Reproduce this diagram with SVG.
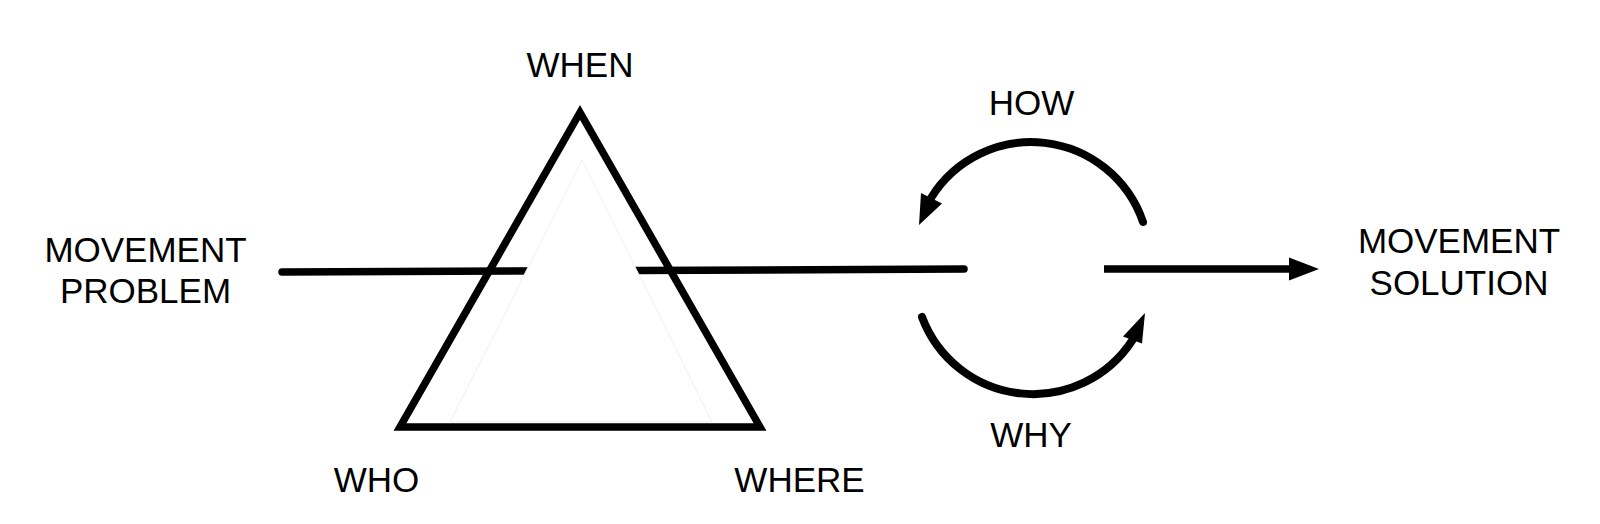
<svg xmlns="http://www.w3.org/2000/svg" width="1600" height="524" viewBox="0 0 1600 524">
<style>
  text { font-family: "Liberation Sans", Arial, Helvetica, sans-serif; font-size: 35px; fill: #000; text-anchor: middle; }
  .ln { fill: none; stroke: #000; stroke-width: 7.5; }
  .arc { fill: none; stroke: #000; stroke-width: 8; stroke-linecap: round; }
  .head { fill: #000; stroke: none; }
</style>
<rect width="1600" height="524" fill="#fff"/>
<g id="connectors">
  <path class="ln" d="M 282 272 L 964 269" stroke-linecap="round"/>
  <path class="ln" d="M 1104 269 L 1292 269"/>
  <polygon class="head" points="1289,257.5 1319,269 1289,280.5"/>
  <path class="arc" d="M 1143 222 A 118 118 0 0 0 931 198"/>
  <polygon class="head" points="921,193 919,225 942,203.5"/>
  <path class="arc" d="M 922 317 A 118.5 118.5 0 0 0 1132.5 340"/>
  <polygon class="head" points="1123,336.5 1145,313 1142,343.5"/>
</g>
<g id="prism">
  <polygon class="ln" points="580,112.5 400,427 760,427" stroke-linejoin="miter"/>
  <polygon points="582,160 450,422 712,422" fill="#fff" stroke="#f0f0f0" stroke-width="1"/>
</g>
<g id="movement-problem">
  <text x="145.5" y="262">MOVEMENT</text>
  <text x="145.5" y="303">PROBLEM</text>
</g>
<g id="movement-solution">
  <text x="1459" y="253">MOVEMENT</text>
  <text x="1459" y="295">SOLUTION</text>
</g>
<g id="when"><text x="580" y="77">WHEN</text></g>
<g id="who"><text x="376.5" y="492">WHO</text></g>
<g id="where"><text x="799.5" y="492">WHERE</text></g>
<g id="how"><text x="1031.5" y="115">HOW</text></g>
<g id="why"><text x="1031" y="447">WHY</text></g>
</svg>
